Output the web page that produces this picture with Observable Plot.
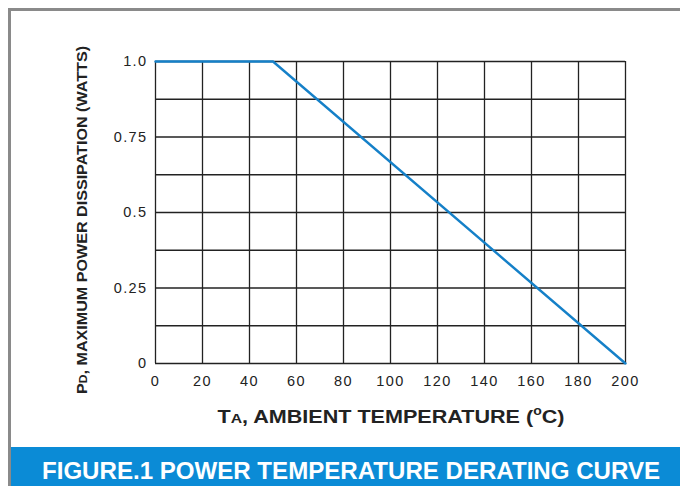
<!DOCTYPE html>
<html><head><meta charset="utf-8">
<script src="https://cdn.jsdelivr.net/npm/d3@7"></script>
<script src="https://cdn.jsdelivr.net/npm/@observablehq/plot@0.6"></script>
<style>
body{margin:0;background:#fff;}
svg{display:block;}
</style></head><body>
<div id="chart"></div>
<script>
const temps = [0, 50, 200];
const power = [1.0, 1.0, 0];
const xTicks = [0, 20, 40, 60, 80, 100, 120, 140, 160, 180, 200];
const yTicks = [0, 0.25, 0.5, 0.75, 1.0];
const yTickLabels = ["0", "0.25", "0.5", "0.75", "1.0"];
const yGrid = [0, 0.125, 0.25, 0.375, 0.5, 0.625, 0.75, 0.875, 1.0];
const title = "FIGURE.1 POWER TEMPERATURE DERATING CURVE";

const data = temps.map((t, i) => ({t, p: power[i]}));
const font = "'Liberation Sans', Arial, sans-serif";

const plot = Plot.plot({
  width: 680, height: 486,
  marginLeft: 155, marginRight: 55, marginTop: 61, marginBottom: 123,
  style: {fontFamily: font, fontSize: "14.5px", color: "#222", background: "#fff"},
  x: {domain: [0, 200]},
  y: {domain: [0, 1]},
  marks: [
    Plot.ruleX(xTicks, {stroke: "#222", strokeWidth: 1.3, strokeOpacity: 1}),
    Plot.ruleY(yGrid, {stroke: "#222", strokeWidth: 1.3, strokeOpacity: 1}),
    Plot.axisX({ticks: xTicks, tickSize: 0, tickPadding: 12, label: null, fontSize: 14.5}),
    Plot.axisY({ticks: yTicks, tickSize: 0, tickPadding: 8, label: null, fontSize: 14.5,
      tickFormat: d => yTickLabels[yTicks.indexOf(d)]}),
    Plot.line(data, {x: "t", y: "p", stroke: "#1580c8", strokeWidth: 2.4})
  ]
});
document.getElementById("chart").appendChild(plot);

const svg = d3.select(plot);
svg.selectAll("g[aria-label='x-axis tick label'] text, g[aria-label='y-axis tick label'] text")
  .style("letter-spacing", "1.4px");
// frame
svg.append("path").attr("d", "M9.5,486 V9.5 H680").attr("fill", "none")
  .attr("stroke", "#8a8a8a").attr("stroke-width", 3);
// banner
svg.append("rect").attr("x", 11).attr("y", 447).attr("width", 669).attr("height", 39)
  .attr("fill", "#0b8bd6");
svg.append("text").attr("x", 351).attr("y", 479).attr("text-anchor", "middle")
  .attr("font-family", font).attr("font-weight", "bold").attr("font-size", 23)
  .attr("fill", "#fff").attr("textLength", 618).attr("lengthAdjust", "spacingAndGlyphs")
  .text(title);
// x label
const xl = svg.append("text").attr("x", 391).attr("y", 423).attr("text-anchor", "middle")
  .attr("font-family", font).attr("font-weight", "bold").attr("font-size", 18.5).attr("fill", "#222")
  .attr("textLength", 347).attr("lengthAdjust", "spacingAndGlyphs");
xl.append("tspan").text("T");
xl.append("tspan").attr("font-size", 13.5).text("A");
xl.append("tspan").text(", AMBIENT TEMPERATURE (");
xl.append("tspan").attr("font-size", 12).attr("dy", -8).text("o");
xl.append("tspan").attr("dy", 8).text("C)");
// y label
const yl = svg.append("text").attr("transform", "translate(87,220) rotate(-90)")
  .attr("text-anchor", "middle").attr("font-family", font).attr("font-weight", "bold")
  .attr("font-size", 14).attr("fill", "#222")
  .attr("textLength", 348).attr("lengthAdjust", "spacingAndGlyphs");
yl.append("tspan").text("P");
yl.append("tspan").attr("font-size", 10.5).text("D");
yl.append("tspan").text(", MAXIMUM POWER DISSIPATION (WATTS)");
</script>
</body></html>
